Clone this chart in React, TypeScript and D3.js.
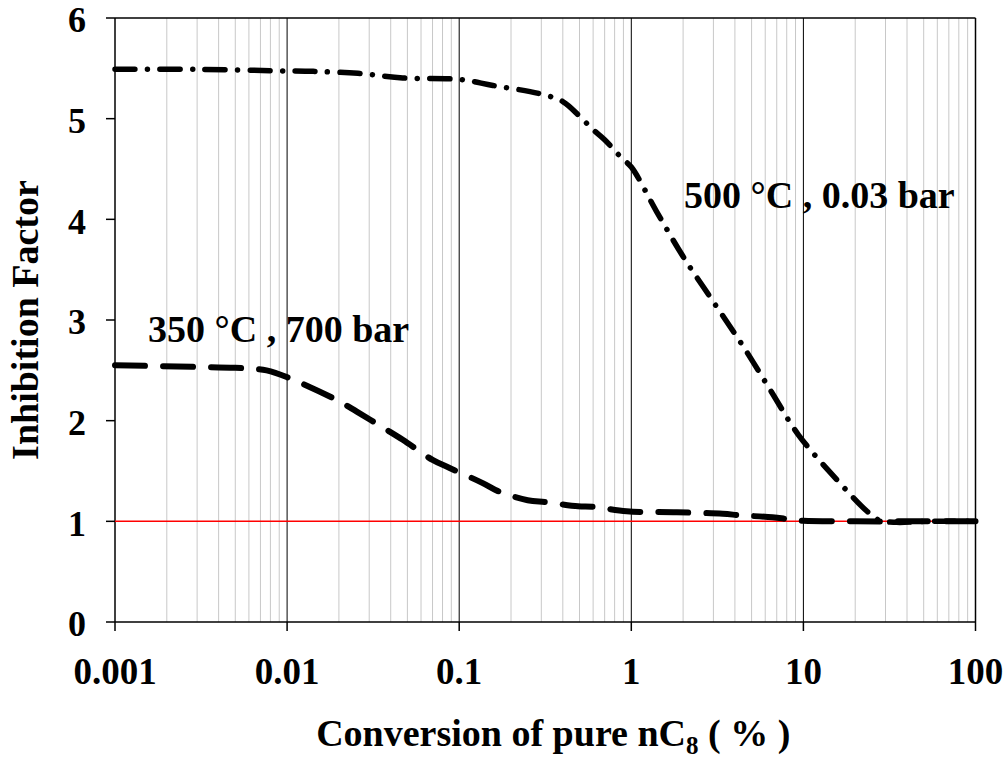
import React from "react";
import * as d3 from "d3";

const xTicks = [0.001, 0.01, 0.1, 1, 10, 100];
const xTickLabels = ["0.001", "0.01", "0.1", "1", "10", "100"];
const yTicks = [0, 1, 2, 3, 4, 5, 6];

const hiX = [0.001, 0.003, 0.0091, 0.0142, 0.0258, 0.047, 0.1, 0.157, 0.29, 0.4, 0.51, 0.6, 0.7, 0.89, 1.0, 1.4, 2.0, 3.0, 4.5, 6.5, 9.35, 15.7, 23.6, 27.7, 34.8, 52, 100];
const hiY = [5.49, 5.49, 5.475, 5.47, 5.45, 5.405, 5.39, 5.33, 5.25, 5.17, 5.01, 4.89, 4.79, 4.6, 4.52, 4.08, 3.63, 3.18, 2.73, 2.29, 1.86, 1.41, 1.095, 1.01, 0.99, 1.0, 1.0];

const loX = [0.001, 0.0028, 0.005, 0.0076, 0.0104, 0.0197, 0.0254, 0.037, 0.047, 0.07, 0.088, 0.137, 0.168, 0.25, 0.32, 0.49, 0.6, 0.94, 1.84, 3.4, 4.3, 6.6, 8.3, 10, 20, 50, 100];
const loY = [2.55, 2.535, 2.525, 2.5, 2.42, 2.2, 2.09, 1.92, 1.81, 1.61, 1.53, 1.38, 1.3, 1.21, 1.19, 1.15, 1.145, 1.1, 1.09, 1.075, 1.06, 1.04, 1.02, 1.005, 1.0, 1.0, 1.0];

const refValue = 1;

export default function App() {
  const W = 1008, H = 761;
  const L = 115, R = 975.5, T = 18, B = 622;
  const x = d3.scaleLog().domain([0.001, 100]).range([L, R]);
  const y = d3.scaleLinear().domain([0, 6]).range([B, T]);

  const minor: number[] = [];
  for (let e = -3; e < 2; e++) {
    for (let k = 2; k <= 9; k++) minor.push(k * Math.pow(10, e));
  }

  const line = d3
    .line<[number, number]>()
    .x((d) => x(d[0]))
    .y((d) => y(d[1]))
    .curve(d3.curveCatmullRom.alpha(0.5));

  const hi = line(hiX.map((v, i) => [v, hiY[i]] as [number, number])) || "";
  const lo = line(loX.map((v, i) => [v, loY[i]] as [number, number])) || "";

  const font = "'Liberation Serif', 'Times New Roman', serif";

  return (
    <svg width={W} height={H} style={{ position: "absolute", left: 0, top: 0 }} fontFamily={font} fontWeight="bold">
      <rect x={0} y={0} width={W} height={H} fill="#fff" />
      {minor.map((m) => (
        <line key={"m" + m} x1={x(m)} x2={x(m)} y1={T} y2={B} stroke="#c8c8c8" strokeWidth={1} />
      ))}
      {xTicks.slice(1, -1).map((t) => (
        <line key={"M" + t} x1={x(t)} x2={x(t)} y1={T} y2={B} stroke="#000" strokeWidth={1} />
      ))}
      <line x1={L} x2={R} y1={T} y2={T} stroke="#000" strokeWidth={1.5} />
      <line x1={R} x2={R} y1={T} y2={B} stroke="#000" strokeWidth={1.5} />
      <line x1={L} x2={L} y1={T} y2={B} stroke="#000" strokeWidth={1.5} />
      <line x1={L} x2={R} y1={B} y2={B} stroke="#000" strokeWidth={1.5} />
      {yTicks.map((t) => (
        <g key={"y" + t}>
          <line x1={L - 9} x2={L} y1={y(t)} y2={y(t)} stroke="#000" strokeWidth={1.5} />
          <text x={86} y={y(t)} dy="0.4em" textAnchor="end" fontSize={36}>
            {t}
          </text>
        </g>
      ))}
      {xTicks.map((t, i) => (
        <g key={"x" + t}>
          <line x1={x(t)} x2={x(t)} y1={B} y2={B + 9} stroke="#000" strokeWidth={1.5} />
          <text x={x(t)} y={684} textAnchor="middle" fontSize={37}>
            {xTickLabels[i]}
          </text>
        </g>
      ))}
      <line x1={L} x2={R} y1={y(refValue)} y2={y(refValue)} stroke="#ff0000" strokeWidth={1.5} />
      <path d={lo} fill="none" stroke="#000" strokeWidth={6} strokeLinecap="round" strokeDasharray="30 18" />
      <path d={hi} fill="none" stroke="#000" strokeWidth={5.5} strokeLinecap="round" strokeDasharray="20 12.5 0.01 12.5" />
      <text x={148} y={342} fontSize={38}>350 °C , 700 bar</text>
      <text x={684} y={208} fontSize={38}>500 °C , 0.03 bar</text>
      <text x={(L + R) / 2 + 8} y={746} textAnchor="middle" fontSize={38}>
        Conversion of pure nC<tspan fontSize={25} dy={8}>8</tspan>
        <tspan dy={-8}> ( % )</tspan>
      </text>
      <text transform={`translate(38, ${(T + B) / 2}) rotate(-90)`} textAnchor="middle" fontSize={38}>
        Inhibition Factor
      </text>
    </svg>
  );
}
